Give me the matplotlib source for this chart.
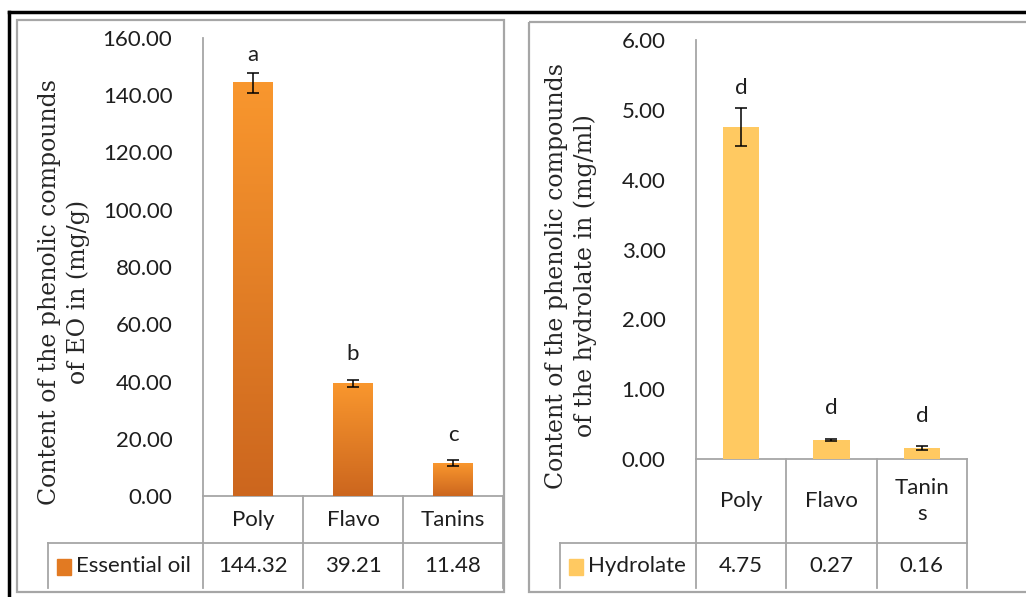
import numpy as np
import matplotlib.pyplot as plt
from matplotlib import transforms
from matplotlib.patches import Rectangle
from matplotlib.colors import LinearSegmentedColormap

# data
categories_eo = ["Poly", "Flavo", "Tanins"]
categories_hy = ["Poly", "Flavo", "Tanin\ns"]
eo_values = [144.32, 39.21, 11.48]
eo_errors = [3.5, 1.2, 1.0]
eo_letters = ["a", "b", "c"]
hy_values = [4.75, 0.27, 0.16]
hy_errors = [0.27, 0.01, 0.03]
hy_letters = ["d", "d", "d"]
eo_ticks = [0, 20, 40, 60, 80, 100, 120, 140, 160]
hy_ticks = [0, 1, 2, 3, 4, 5, 6]

W, H = 1026, 597
SANS = "Lato"
FS = 16
GRID = "#A6A6A6"
INK = "#1E1E1E"

fig = plt.figure(figsize=(W / 100, H / 100), dpi=100)
bg = fig.add_axes([0, 0, 1, 1])
bg.set_xlim(0, W)
bg.set_ylim(H, 0)
bg.axis("off")


def rect(x0, y0, x1, y1):
    # pixel box (top-left origin) -> figure fraction
    return [x0 / W, 1 - y1 / H, (x1 - x0) / W, (y1 - y0) / H]


orange_grad = LinearSegmentedColormap.from_list("og", ["#CC661E", "#F9972E"])


def panel(box, values, errors, letters, cats, ticks, ylabel, ylab_xy, series,
          color, gradient, legend_x, pads, tick_pad, head_y):
    x0, ytop, x1, yzero = box
    ax = fig.add_axes(rect(x0, ytop, x1, yzero))
    xs = np.arange(len(values))
    bars = ax.bar(xs, values, width=0.4, color=color, zorder=2)
    if gradient:
        g = np.linspace(0, 1, 256).reshape(-1, 1)
        for b in bars:
            b.set_facecolor("none")
            ax.imshow(g, cmap=orange_grad, origin="lower", aspect="auto", zorder=2,
                      extent=[b.get_x(), b.get_x() + b.get_width(), 0, b.get_height()])
    ax.errorbar(xs, values, yerr=errors, fmt="none", ecolor="black",
                elinewidth=1.1, capsize=4, capthick=1.1, zorder=3)
    ax.set_xlim(-0.5, len(values) - 0.5)
    ax.set_ylim(ticks[0], ticks[-1])
    ax.set_yticks(ticks)
    ax.set_yticklabels([f"{t:.2f}" for t in ticks], fontsize=FS, family=SANS,
                       color=INK)
    ax.tick_params(axis="y", length=0, pad=tick_pad)
    ax.set_xticks([])
    for s in ["top", "right", "bottom"]:
        ax.spines[s].set_visible(False)
    ax.spines["left"].set_color(GRID)
    ax.spines["left"].set_linewidth(1.3)
    ax.patch.set_alpha(0)

    for x, v, e, t, p in zip(xs, values, errors, letters, pads):
        ax.annotate(t, (x, v + e), xytext=(0, p), textcoords="offset pixels",
                    ha="center", va="center", fontsize=FS, family=SANS, color=INK)

    # data table under the axis
    tr = transforms.blended_transform_factory(ax.transData, bg.transData)
    row_y, bot_y = 543, 588
    for x, c, v in zip(xs, cats, values):
        bg.text(x, head_y, c, transform=tr, ha="center", va="center", fontsize=FS,
                family=SANS, color=INK, linespacing=1.4)
        bg.text(x, (row_y + bot_y) / 2, f"{v:.2f}", transform=tr, ha="center",
                va="center", fontsize=FS, family=SANS, color=INK)
    for b in np.arange(len(values) + 1) - 0.5:
        bg.plot([b, b], [yzero, bot_y], transform=tr, color=GRID, lw=1.3)
    bg.plot([x0, x1], [yzero, yzero], color=GRID, lw=1.3)
    bg.plot([legend_x, x1], [row_y, row_y], color=GRID, lw=1.3)
    bg.plot([legend_x, legend_x], [row_y, bot_y], color=GRID, lw=1.3)
    sq = "#E27A22" if gradient else color
    bg.add_patch(Rectangle((legend_x + 9, 559), 14, 16, color=sq))
    bg.text(legend_x + 28, (row_y + bot_y) / 2, series, ha="left", va="center",
            fontsize=FS, family=SANS, color=INK)

    bg.text(ylab_xy[0], ylab_xy[1], ylabel, rotation=90, ha="center", va="center",
            fontsize=17, family="DejaVu Serif", color="#262626", linespacing=1.3,
            multialignment="center")
    return ax


panel((203, 38, 503, 496), eo_values, eo_errors, eo_letters, categories_eo,
      eo_ticks, "Content of the phenolic compounds\nof EO in (mg/g)", (64, 292),
      "Essential oil", "#EE8626", True, 48, [18, 26, 25], 22, 520)

panel((696, 40, 967, 459), hy_values, hy_errors, hy_letters, categories_hy,
      hy_ticks, "Content of the phenolic compounds\nof the hydrolate in (mg/ml)", (571, 276),
      "Hydrolate", "#FFC961", False, 560, [20, 31, 30], 22, 501)

# panel frames
bg.add_patch(Rectangle((17, 20), 487, 572, fill=False, ec=GRID, lw=1.6))
bg.add_patch(Rectangle((529, 22), 520, 570, fill=False, ec=GRID, lw=1.6))
# black outer border
bg.plot([9, W], [12, 12], color="black", lw=2.5)
bg.plot([9, 9], [12, H], color="black", lw=2.5)

fig.savefig("out.png", dpi=100)
